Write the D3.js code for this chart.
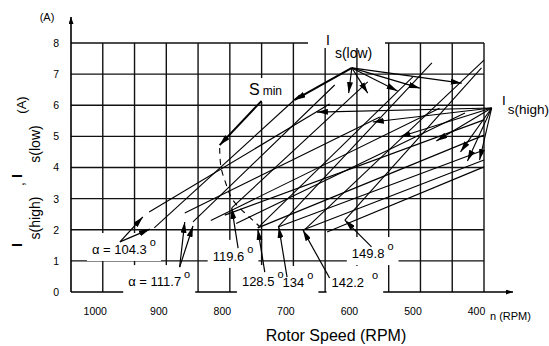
<!DOCTYPE html>
<html><head><meta charset="utf-8">
<script src="https://cdn.jsdelivr.net/npm/d3@7"></script>
<style>
body{margin:0;background:#fff;}
svg{display:block;}
text{font-family:"Liberation Sans",Arial,sans-serif;fill:#000;}
</style></head><body>
<svg id="c" width="549" height="346"></svg>
<script>
// ---------- data (RPM, A) ----------
const xTicks = [1000, 900, 800, 700, 600, 500, 400];
const yTicks = [0, 1, 2, 3, 4, 5, 6, 7, 8];
const alphaNames = ["α = 104.3", "α = 111.7", "119.6", "128.5", "134", "142.2", "149.8"];

// I_s(low) lines (steep)
const lowStartRpm = [919, 858, 797, 756, 724, 683, 619];
const lowStartA   = [2.06, 2.25, 2.70, 2.06, 2.09, 1.99, 2.31];
const lowEndRpm   = [690, 635, 583, 512, 482, 400, 404];
const lowEndA     = [6.33, 6.65, 6.75, 6.91, 7.36, 7.45, 7.20];

// I_s(high) lines (shallow)
const highStartRpm = [927, 871, 808, 756, 724, 685, 647];
const highStartA   = [2.57, 2.54, 2.47, 2.06, 2.09, 1.99, 1.93];
const highEndRpm   = [643, 564, 400, 400, 400, 400, 400];
const highEndA     = [6.04, 5.62, 5.53, 5.04, 4.56, 4.24, 4.02];

// additional operating lines
const extraStartRpm = [830, 790];
const extraStartA   = [2.30, 2.20];
const extraEndRpm   = [470, 430];
const extraEndA     = [5.90, 5.75];

// S_min locus (dashed)
const sminRpm = [816, 814, 806, 798, 789, 778, 764, 754];
const sminA   = [4.63, 4.02, 3.47, 3.05, 2.79, 2.57, 2.31, 2.12];

// annotation arrows
const lowApex = [608, 7.20];
const lowTipRpm = [698, 613, 583, 536, 501, 435];
const lowTipA   = [6.17, 6.39, 6.39, 6.46, 6.55, 6.71];
const highApex = [388, 5.91];
const highTipRpm = [663, 575, 533, 475, 437, 426, 407];
const highTipA   = [5.78, 5.46, 4.98, 4.85, 4.50, 4.21, 4.24];
const sminArrow = [[750, 6.14], [816, 4.72]];

// alpha labels (text anchor) and their arrows
const alphaLabelRpm = [1017, 960, 827, 781, 717, 640, 608];
const alphaLabelA   = [1.22, 0.19, 1.00, 0.19, 0.16, 0.16, 1.09];
const alphaArrowFrom = [[973,1.61],[973,1.61],[879,0.80],[879,0.80],[787,1.41],[745,0.64],[710,0.48],[643,0.45],[577,1.45]];
const alphaArrowTo   = [[937,2.41],[926,2.02],[871,2.25],[858,2.12],[797,2.70],[756,2.02],[723,2.09],[685,1.99],[619,2.31]];

// ---------- drawing ----------
const svg = d3.select("#c");
const x = d3.scaleLinear().domain([1050, 400]).range([71, 484]);
const y = d3.scaleLinear().domain([0, 8]).range([292, 43]);

const defs = svg.append("defs");
function marker(id, L, Wd){
  defs.append("marker").attr("id", id).attr("viewBox", `0 0 ${L} ${Wd}`)
    .attr("refX", L).attr("refY", Wd/2).attr("markerWidth", L).attr("markerHeight", Wd)
    .attr("markerUnits", "userSpaceOnUse").attr("orient", "auto")
    .append("path").attr("d", `M0,0L${L},${Wd/2}L0,${Wd}Z`).attr("fill", "#000");
}
marker("ah", 11, 6);
marker("ax", 7, 5);

// grid
const gridRpm = d3.range(1000, 399, -50);
const g = svg.append("g");
g.selectAll(".v").data(gridRpm).join("line")
  .attr("x1", d => x(d)).attr("x2", d => x(d)).attr("y1", y(0)).attr("y2", y(8))
  .attr("stroke", "#111").attr("stroke-width", 1.4);
g.selectAll(".h").data(yTicks.slice(1)).join("line")
  .attr("x1", x(1050)).attr("x2", x(400)).attr("y1", d => y(d)).attr("y2", d => y(d))
  .attr("stroke", "#111").attr("stroke-width", 1.4);

// axes with arrows
svg.append("line").attr("x1", x(1050)).attr("x2", x(1050)).attr("y1", y(0)).attr("y2", 17)
  .attr("stroke", "#000").attr("stroke-width", 1.6).attr("marker-end", "url(#ax)");
svg.append("line").attr("x1", x(1050)).attr("x2", 513).attr("y1", y(0)).attr("y2", y(0))
  .attr("stroke", "#000").attr("stroke-width", 1.6).attr("marker-end", "url(#ax)");

// tick labels
const xAxis = d3.axisBottom(x).tickValues(xTicks).tickSize(0).tickFormat(d3.format("d"));
const xa = svg.append("g").attr("transform", `translate(0,${y(0)})`).call(xAxis);
xa.select(".domain").remove();
xa.selectAll("text").attr("dx", -8).attr("y", 16).attr("font-size", 10.5)
  .attr("font-family", "Liberation Sans, Arial, sans-serif");
const yAxis = d3.axisLeft(y).tickValues(yTicks).tickSize(0).tickFormat(d3.format("d"));
const ya = svg.append("g").attr("transform", `translate(${x(1050) - 9},0)`).call(yAxis);
ya.select(".domain").remove();
ya.selectAll("text").attr("font-size", 10.5).attr("font-family", "Liberation Sans, Arial, sans-serif");

const knock = svg.append("g");
const dataG = svg.append("g");
const labG = svg.append("g");

// alpha labels
const aLabels = alphaNames.map((s, i) => {
  const t = labG.append("text").attr("x", x(alphaLabelRpm[i])).attr("y", y(alphaLabelA[i]))
    .attr("font-family", "Liberation Serif, Times New Roman, serif").attr("font-size", 13);
  t.append("tspan").text(s);
  t.append("tspan").attr("dx", i === 5 ? 8 : 3).attr("dy", -8).attr("font-size", 11).text("o");
  return t;
});

// I_s(low) label
const lowLab = labG.append("text").attr("x", 326).attr("y", 45).attr("font-size", 14);
lowLab.append("tspan").text("I");
lowLab.append("tspan").attr("dx", 5).attr("dy", 13).text("s(low)");
// I_s(high) label
const highLab = labG.append("text").attr("x", 502).attr("y", 105).attr("font-size", 13.5);
highLab.append("tspan").text("I");
highLab.append("tspan").attr("dx", 2).attr("dy", 9).text("s(high)");
// S min label
const sLab = labG.append("text").attr("x", 249).attr("y", 95).attr("font-size", 16);
sLab.append("tspan").text("S");
sLab.append("tspan").attr("dx", 3).attr("font-size", 12).text("min");

// knock-out rects behind labels (grid is interrupted there)
[...aLabels, sLab].forEach(t => {
  const b = t.node().getBBox();
  knock.append("rect").attr("x", b.x - 5).attr("y", b.y - 3).attr("width", b.width + 10).attr("height", b.height + 7)
    .attr("fill", "#fff");
});
knock.append("rect").attr("x", 308).attr("y", 36).attr("width", 77).attr("height", 12).attr("fill", "#fff");

// data lines
const line = d3.line().x(d => x(d[0])).y(d => y(d[1]));
function seg(a, b, w){
  dataG.append("path").attr("d", line([a, b])).attr("stroke", "#000").attr("stroke-width", w).attr("fill", "none");
}
lowStartRpm.forEach((r, i) => seg([r, lowStartA[i]], [lowEndRpm[i], lowEndA[i]], 1.1));
highStartRpm.forEach((r, i) => seg([r, highStartA[i]], [highEndRpm[i], highEndA[i]], 1.1));
extraStartRpm.forEach((r, i) => seg([r, extraStartA[i]], [extraEndRpm[i], extraEndA[i]], 1.1));
// emphasised part of the 142.2 I_s(low) line
{
  const a = [lowStartRpm[5], lowStartA[5]], b = [lowEndRpm[5], lowEndA[5]];
  const ip = d3.interpolate(a, b);
  seg(ip(0.4), ip(0.76), 2.4);
}
// S_min dashed locus
dataG.append("path").attr("d", d3.line().curve(d3.curveCatmullRom).x(d => x(d[0])).y(d => y(d[1]))(sminRpm.map((r, i) => [r, sminA[i]])))
  .attr("stroke", "#000").attr("stroke-width", 1.1).attr("fill", "none").attr("stroke-dasharray", "6,5");

// annotation arrows
function arrow(a, b, w){
  dataG.append("line").attr("x1", x(a[0])).attr("y1", y(a[1])).attr("x2", x(b[0])).attr("y2", y(b[1]))
    .attr("stroke", "#000").attr("stroke-width", w).attr("marker-end", "url(#ah)");
}
lowTipRpm.forEach((r, i) => arrow(lowApex, [r, lowTipA[i]], i === 0 ? 2 : 1.1));
highTipRpm.forEach((r, i) => arrow(highApex, [r, highTipA[i]], 1.1));
arrow(sminArrow[0], sminArrow[1], 2);
alphaArrowFrom.forEach((f, i) => arrow(f, alphaArrowTo[i], 1.2));

// axis titles
svg.append("text").attr("x", 47).attr("y", 21).attr("text-anchor", "middle").attr("font-size", 11).text("(A)");
svg.append("text").attr("x", 490).attr("y", 320).attr("font-size", 11).text("n (RPM)");
svg.append("text").attr("x", 336).attr("y", 341).attr("text-anchor", "middle").attr("font-size", 16).text("Rotor Speed (RPM)");

function rot(txt, cx, cy, size, weight){
  svg.append("text").attr("transform", `translate(${cx},${cy}) rotate(-90)`).attr("text-anchor", "middle")
    .attr("font-size", size).attr("font-weight", weight || "normal").text(txt);
}
rot("I", 22, 245, 14, "bold");
rot("s(high)", 40, 218, 14);
rot(",", 24, 184, 14);
rot("I", 22, 176, 14, "bold");
rot("s(low)", 40, 144, 14);
rot("(A)", 26, 105, 13);
</script></body></html>
